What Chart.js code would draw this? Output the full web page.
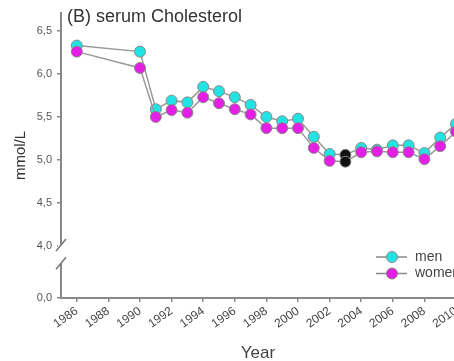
<!DOCTYPE html>
<html>
<head>
<meta charset="utf-8">
<script src="https://cdn.jsdelivr.net/npm/chart.js@4.4.0/dist/chart.umd.min.js"></script>
<style>
  html, body { margin: 0; padding: 0; background: #fff; overflow: hidden; }
  #contenedor { width: 500px; height: 361px; }
</style>
</head>
<body>
<div id="contenedor"><canvas id="grafico" width="500" height="361"></canvas></div>
<script>
// Datos (mmol/L)
const anios = [1986, 1990, 1991, 1992, 1993, 1994, 1995, 1996, 1997, 1998, 1999, 2000, 2001, 2002, 2003, 2004, 2005, 2006, 2007, 2008, 2009, 2010];
const hombres = [6.33, 6.26, 5.59, 5.69, 5.67, 5.85, 5.80, 5.73, 5.64, 5.50, 5.45, 5.48, 5.27, 5.07, 5.06, 5.14, 5.12, 5.17, 5.17, 5.08, 5.26, 5.42];
const mujeres = [6.26, 6.07, 5.50, 5.58, 5.55, 5.73, 5.66, 5.59, 5.53, 5.37, 5.37, 5.37, 5.14, 4.99, 4.98, 5.09, 5.10, 5.09, 5.09, 5.01, 5.16, 5.33];
const aniosNegros = [2003];   // puntos marcados en negro

const ticksX = [1986, 1988, 1990, 1992, 1994, 1996, 1998, 2000, 2002, 2004, 2006, 2008, 2010];
const ticksY = [4.0, 4.5, 5.0, 5.5, 6.0, 6.5];
const etiquetaCero = "0,0";   // base del eje cortado

const titulo = "(B) serum Cholesterol";
const etiquetas = ["men", "women"];

const minY = 3.395, maxY = 6.709;

function armarPuntos(valores) {
  return anios.map((a, i) => ({ x: a, y: valores[i] }));
}

function coloresPuntos(color) {
  return anios.map(a => aniosNegros.includes(a) ? "#111" : color);
}

// titulo, leyenda, corte del eje y "Year"
const extras = {
  id: "extras",
  afterDraw(chart) {
    const ctx = chart.ctx;
    const area = chart.chartArea;
    const y = chart.scales.y;
    ctx.save();

    ctx.fillStyle = "#333";
    ctx.font = "18px 'Liberation Sans', Arial, sans-serif";
    ctx.textBaseline = "middle";
    ctx.textAlign = "left";
    ctx.fillText(titulo, area.left + 6, 17);

    // corte del eje
    const y1 = y.getPixelForValue(4.0) - 1;
    const y2 = y.getPixelForValue(3.8);
    ctx.fillStyle = "#fff";
    ctx.fillRect(area.left - 3, y1, 6, y2 - y1);
    ctx.strokeStyle = "#777";
    ctx.lineWidth = 1.5;
    [y1, y2].forEach(yy => {
      ctx.beginPath();
      ctx.moveTo(area.left - 5, yy + 6);
      ctx.lineTo(area.left + 5, yy - 6);
      ctx.stroke();
    });

    // leyenda
    chart.data.datasets.forEach((ds, i) => {
      const yy = 257 + i * 16.5;
      ctx.strokeStyle = "#888";
      ctx.lineWidth = 1.5;
      ctx.beginPath();
      ctx.moveTo(376, yy);
      ctx.lineTo(407, yy);
      ctx.stroke();
      ctx.beginPath();
      ctx.arc(392, yy, 5.5, 0, Math.PI * 2);
      ctx.fillStyle = ds.backgroundColor;
      ctx.fill();
      ctx.lineWidth = 1;
      ctx.stroke();
      ctx.fillStyle = "#444";
      ctx.font = "14px 'Liberation Sans', Arial, sans-serif";
      ctx.textAlign = "left";
      ctx.fillText(ds.label, 415, yy);
    });

    ctx.fillStyle = "#444";
    ctx.font = "17px 'Liberation Sans', Arial, sans-serif";
    ctx.textAlign = "center";
    ctx.fillText("Year", 258, 353);
    ctx.restore();
  }
};

const ctx = document.getElementById("grafico").getContext("2d");
new Chart(ctx, {
  type: "line",
  data: {
    datasets: [
      {
        label: etiquetas[0],
        data: armarPuntos(hombres),
        borderColor: "#999",
        borderWidth: 1.5,
        backgroundColor: "#22e3e3",
        pointBackgroundColor: coloresPuntos("#22e3e3"),
        pointBorderColor: "#888",
        pointBorderWidth: 1,
        pointRadius: 5.5,
        order: 1
      },
      {
        label: etiquetas[1],
        data: armarPuntos(mujeres),
        borderColor: "#999",
        borderWidth: 1.5,
        backgroundColor: "#e51ee5",
        pointBackgroundColor: coloresPuntos("#e51ee5"),
        pointBorderColor: "#888",
        pointBorderWidth: 1,
        pointRadius: 5.5,
        order: 0
      }
    ]
  },
  options: {
    responsive: false,
    animation: false,
    layout: { padding: { top: 13, right: 12.4, left: 0, bottom: 0 } },
    plugins: {
      legend: { display: false },
      tooltip: { enabled: false }
    },
    scales: {
      x: {
        type: "linear",
        min: 1985,
        max: 2012,
        afterFit: s => { s.height = 63; },
        afterBuildTicks: s => { s.ticks = ticksX.map(v => ({ value: v })); },
        grid: { drawOnChartArea: false, color: "#888", tickLength: 4, lineWidth: 1.5 },
        border: { color: "#888", width: 2 },
        ticks: {
          callback: v => String(v),
          minRotation: 35,
          maxRotation: 35,
          color: "#444",
          padding: 2,
          font: { size: 12, family: "'Liberation Sans', Arial, sans-serif" }
        }
      },
      y: {
        min: minY,
        max: maxY,
        afterFit: s => { s.width = 61; },
        afterBuildTicks: s => { s.ticks = [minY].concat(ticksY).map(v => ({ value: v })); },
        grid: { drawOnChartArea: false, color: "#888", tickLength: 4, lineWidth: 1.5 },
        border: { color: "#888", width: 2 },
        title: {
          display: true,
          text: "mmol/L",
          color: "#333",
          padding: { top: 12, bottom: 0 },
          font: { size: 15, family: "'Liberation Sans', Arial, sans-serif" }
        },
        ticks: {
          callback: v => v < 4 ? etiquetaCero : v.toFixed(1).replace(".", ","),
          color: "#555",
          padding: 5,
          font: { size: 11, family: "'Liberation Sans', Arial, sans-serif" }
        }
      }
    }
  },
  plugins: [extras]
});
</script>
</body>
</html>
